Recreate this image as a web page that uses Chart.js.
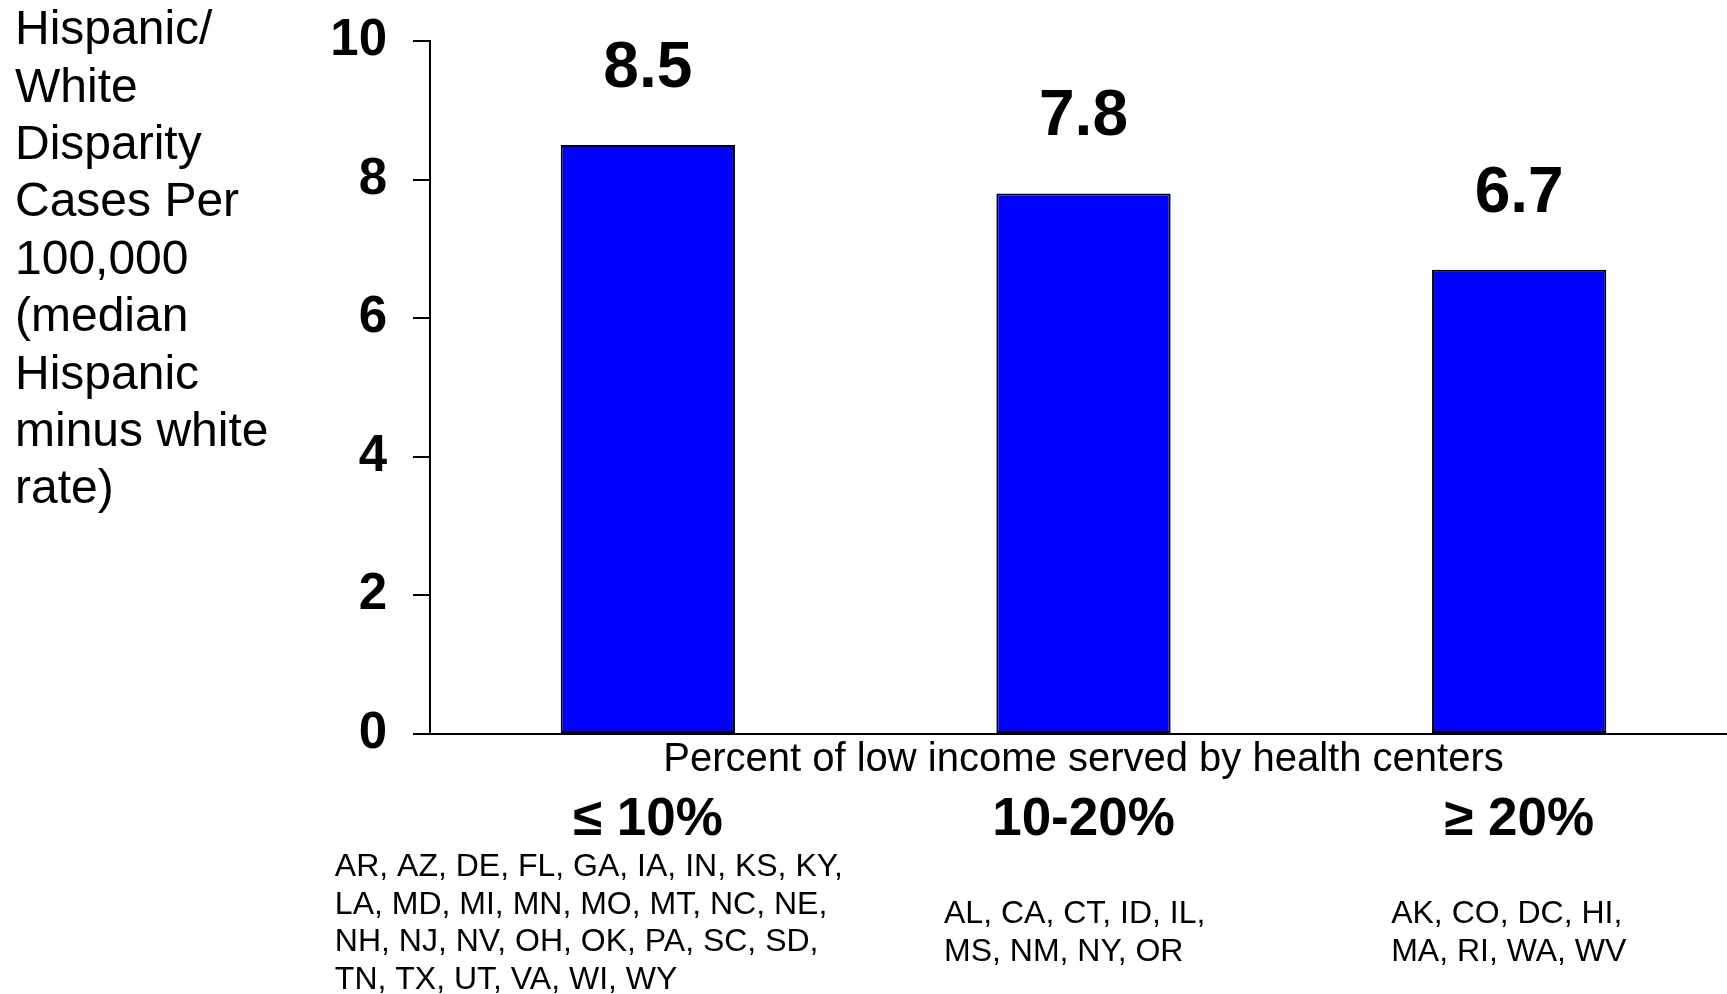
<!DOCTYPE html>
<html><head><meta charset="utf-8">
<script src="https://cdn.jsdelivr.net/npm/chart.js@4.4.1/dist/chart.umd.min.js"></script>
<style>
html,body{margin:0;padding:0;background:#fff;overflow:hidden;width:1727px;height:994px}
#wrap{position:absolute;left:0;top:0;width:1740px;height:994px}
</style>
</head><body><div id="wrap"><canvas id="c" width="1740" height="994"></canvas></div>
<script>
const categories = ['≤ 10%', '10-20%', '≥ 20%'];
const disparityValues = [8.5, 7.8, 6.7];
const valueLabels = ['8.5', '7.8', '6.7'];
const yTickValues = [0, 2, 4, 6, 8, 10];
const xAxisTitle = 'Percent of low income served by health centers';
const yTitleLines = ['Hispanic/', 'White', 'Disparity', 'Cases Per', '100,000', '(median', 'Hispanic', 'minus white', 'rate)'];
const stateGroups = [
  ['AR, AZ, DE, FL, GA, IA, IN, KS, KY,', 'LA, MD, MI, MN, MO, MT, NC, NE,', 'NH, NJ, NV, OH, OK, PA, SC, SD,', 'TN, TX, UT, VA, WI, WY'],
  ['AL, CA, CT, ID, IL,', 'MS, NM, NY, OR'],
  ['AK, CO, DC, HI,', 'MA, RI, WA, WV']
];

const FAMILY = "'Liberation Sans', Arial, Helvetica, sans-serif";

const valueLabelPlugin = {
  id: 'valueLabels',
  afterDatasetsDraw(chart) {
    const ctx = chart.ctx;
    const meta = chart.getDatasetMeta(0);
    ctx.save();
    ctx.fillStyle = '#000';
    ctx.font = 'bold 64px ' + FAMILY;
    ctx.textAlign = 'center';
    ctx.textBaseline = 'alphabetic';
    meta.data.forEach((bar, i) => {
      ctx.fillText(valueLabels[i], bar.x, bar.y - 58);
    });
    ctx.restore();
  }
};

const yTitlePlugin = {
  id: 'yTitle',
  afterDraw(chart) {
    const ctx = chart.ctx;
    ctx.save();
    ctx.fillStyle = '#000';
    ctx.font = '48px ' + FAMILY;
    ctx.textAlign = 'left';
    ctx.textBaseline = 'middle';
    yTitleLines.forEach((line, i) => {
      ctx.fillText(line, 15, 31 + 57.4 * i);
    });
    ctx.restore();
  }
};

const stateListPlugin = {
  id: 'stateLists',
  afterDraw(chart, args, opts) {
    const ctx = chart.ctx;
    const sx = chart.scales.x2;
    ctx.save();
    ctx.fillStyle = '#000';
    ctx.font = '32px ' + FAMILY;
    ctx.textAlign = 'left';
    ctx.textBaseline = 'middle';
    stateGroups.forEach((lines, i) => {
      const left = sx.getPixelForValue(i) + opts.dx[i];
      const top = sx.bottom + opts.dy[i];
      lines.forEach((line, j) => {
        ctx.fillText(line, left, top + j * 37.7);
      });
    });
    ctx.restore();
  }
};

new Chart(document.getElementById('c'), {
  type: 'bar',
  data: {
    labels: categories,
    datasets: [{
      data: disparityValues,
      backgroundColor: '#0000FF',
      borderColor: '#000000',
      borderWidth: 2,
      borderSkipped: false,
      barPercentage: 0.4,
      categoryPercentage: 1.0,
      xAxisID: 'x',
      yAxisID: 'y'
    }]
  },
  options: {
    responsive: false,
    devicePixelRatio: 1,
    animation: false,
    layout: { padding: { top: 41, left: 0, right: 3, bottom: 147.5 } },
    plugins: {
      legend: { display: false },
      tooltip: { enabled: false },
      title: { display: false },
      stateLists: { dx: [-313, -139.5, -128], dy: [20.5, 67.5, 67.5] }
    },
    scales: {
      x: {
        type: 'category',
        position: 'bottom',
        offset: true,
        weight: 0,
        afterFit(s) { s.height = 46; },
        grid: { display: false, drawTicks: false },
        border: { display: true, color: '#000', width: 2 },
        ticks: { display: false },
        title: {
          display: true,
          text: xAxisTitle,
          color: '#000',
          font: { family: FAMILY, size: 40, lineHeight: 1 },
          padding: { top: 6, bottom: 0 }
        }
      },
      x2: {
        type: 'category',
        labels: categories,
        position: 'bottom',
        offset: true,
        weight: 1,
        afterFit(s) { s.height = 66.5; },
        grid: { display: false, drawTicks: false },
        border: { display: false },
        ticks: {
          color: '#000',
          font: { family: FAMILY, size: 53, weight: 'bold', lineHeight: 1 },
          padding: 13.5,
          maxRotation: 0,
          autoSkip: false
        }
      },
      y: {
        type: 'linear',
        position: 'left',
        min: 0,
        max: 10,
        afterBuildTicks(s) { s.ticks = yTickValues.map(v => ({ value: v })); },
        afterFit(s) { s.width = 430; },
        grid: { display: true, drawOnChartArea: false, drawTicks: true, tickLength: 17, color: '#000', lineWidth: 2 },
        border: { display: true, color: '#000', width: 2 },
        ticks: {
          color: '#000',
          padding: 26,
          font: { family: FAMILY, size: 51, weight: 'bold', lineHeight: 0.5 }
        }
      }
    }
  },
  plugins: [valueLabelPlugin, yTitlePlugin, stateListPlugin]
});
</script>
</body></html>
